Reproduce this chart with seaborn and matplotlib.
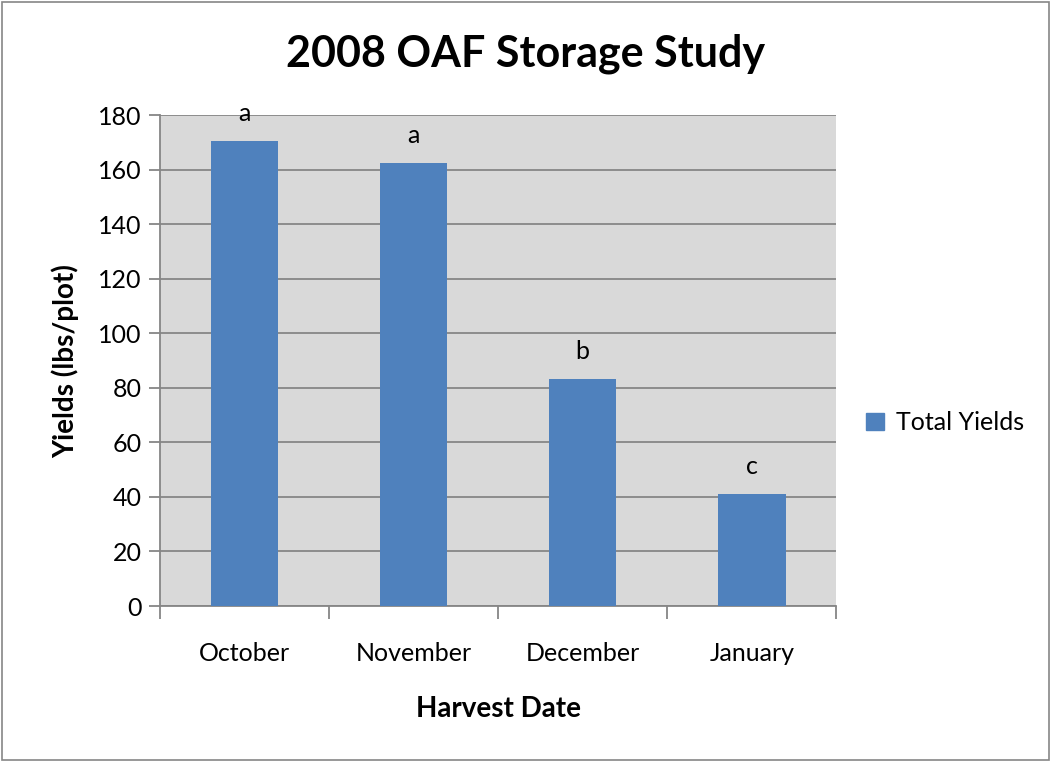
import matplotlib
matplotlib.use("Agg")
import matplotlib.pyplot as plt
import matplotlib.patches as mpatches
import pandas as pd
import seaborn as sns

months = ["October", "November", "December", "January"]
yields = [170.5, 162.5, 83.2, 41.0]
letters = ["a", "a", "b", "c"]

BAR = "#4F81BD"
BG = "#D9D9D9"
GRID = "#868686"

sns.set_theme(style="white")
plt.rcParams["font.family"] = ["Lato", "DejaVu Sans"]
plt.rcParams["text.color"] = "black"
plt.rcParams["axes.labelcolor"] = "black"
plt.rcParams["xtick.labelcolor"] = "black"
plt.rcParams["ytick.labelcolor"] = "black"

df = pd.DataFrame({"month": months, "yield": yields})

fig = plt.figure(figsize=(10.52, 7.62), dpi=100)
ax = fig.add_axes([0.152, 0.2047, 0.643, 0.644])
ax.set_facecolor(BG)

sns.barplot(data=df, x="month", y="yield", color=BAR, width=0.4, saturation=1,
            linewidth=0, ax=ax, zorder=3)

ax.set_ylim(0, 180)
ax.set_xlim(-0.5, 3.5)
ax.set_yticks(range(0, 181, 20))
ax.yaxis.grid(True, color=GRID, linewidth=1.3, zorder=0)
ax.set_axisbelow(True)
for s in ["top", "right"]:
    ax.spines[s].set_visible(False)
ax.spines["left"].set_color(GRID)
ax.spines["bottom"].set_color(GRID)
ax.spines["left"].set_linewidth(1.3)
ax.spines["bottom"].set_linewidth(1.3)

# category ticks at boundaries, labels at centers
ax.set_xticks([i + 0.5 for i in range(-1, 4)], minor=True)
ax.tick_params(axis="x", which="minor", length=9, color=GRID, width=1.3, direction="out", bottom=True)
ax.tick_params(axis="x", which="major", length=0, pad=26, labelsize=18)
ax.tick_params(axis="y", length=8, color=GRID, width=1.3, direction="out", left=True, labelsize=18, pad=5)

for p, lt in zip(ax.patches, letters):
    ax.annotate(lt, (p.get_x() + p.get_width() / 2, p.get_height()),
                xytext=(0, 20), textcoords="offset points", ha="center", va="center",
                fontsize=18, annotation_clip=False)

ax.set_xlabel("Harvest Date", fontsize=20, fontweight="bold", labelpad=22)
ax.set_ylabel("Yields (lbs/plot)", fontsize=20, fontweight="bold", labelpad=14)
fig.text(0.5, 0.93, "2008 OAF Storage Study", ha="center", va="center",
         fontsize=31, fontweight="bold")

handle = mpatches.Patch(color=BAR, label="Total Yields")
fig.legend(handles=[handle], loc="center left", bbox_to_anchor=(0.802, 0.445),
           frameon=False, fontsize=18, handlelength=0.7, handleheight=0.7,
           handletextpad=0.5)

fig.patches.append(mpatches.Rectangle((0.002, 0.003), 0.995, 0.994, transform=fig.transFigure,
                                      fill=False, edgecolor=GRID, linewidth=1.2))

fig.savefig("out.png", dpi=100, facecolor="white")
